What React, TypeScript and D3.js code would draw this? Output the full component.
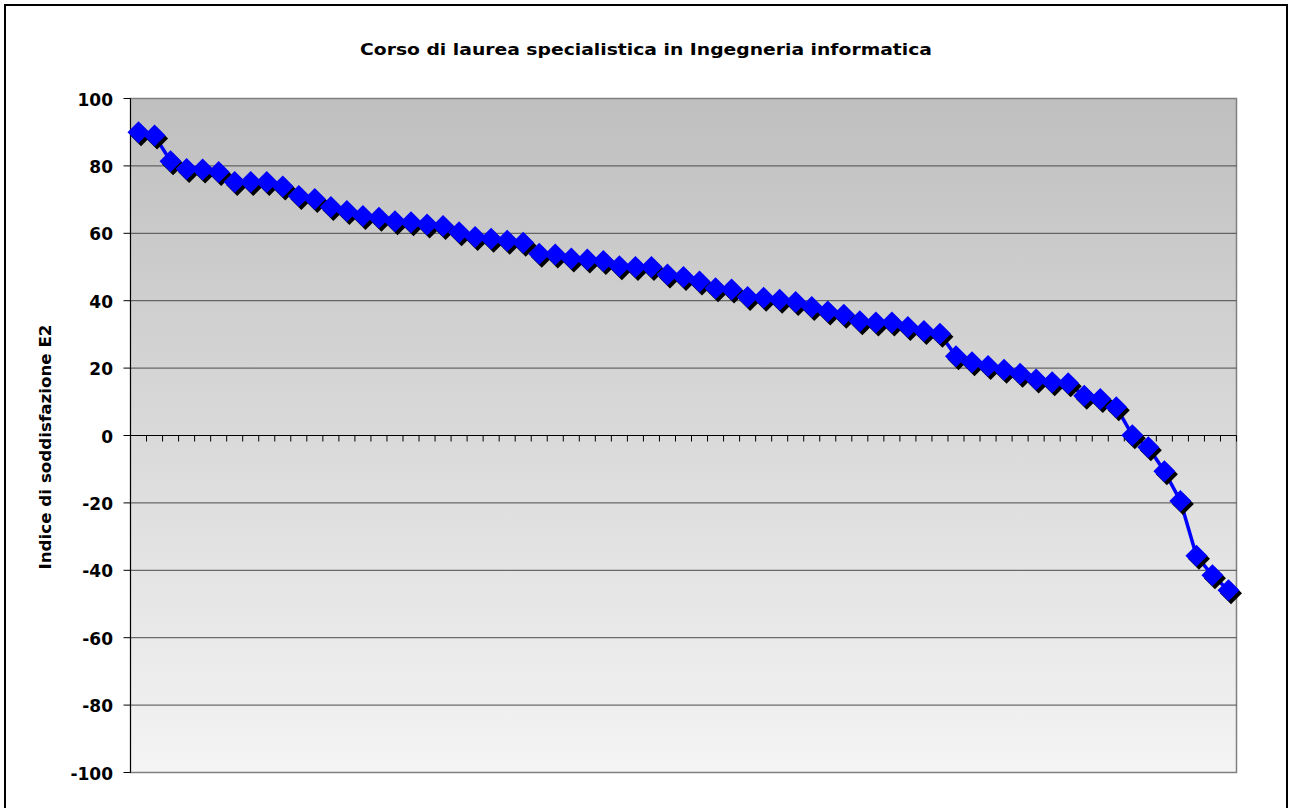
import React from "react";
import * as d3 from "d3";

const TITLE = "Corso di laurea specialistica in Ingegneria informatica";
const Y_TITLE = "Indice di soddisfazione E2";
const Y_TICKS = [100, 80, 60, 40, 20, 0, -20, -40, -60, -80, -100];
const VALUES = [
  90, 89, 81.4, 79.1, 78.9, 78.2, 75.2, 75.2, 75.2, 73.9,
  71.1, 70.2, 67.8, 66.6, 65.1, 64.6, 63.6, 63.3, 62.6, 62.2,
  60.3, 58.9, 58.4, 57.8, 57.2, 53.9, 53.7, 52.5, 52.2, 51.8,
  50.2, 50.0, 50.0, 47.8, 47.0, 45.7, 43.7, 43.3, 41.1, 40.9,
  40.3, 39.6, 38.1, 36.8, 35.8, 33.9, 33.5, 33.5, 32.2, 31.0,
  30.2, 23.5, 21.7, 20.6, 19.5, 18.3, 16.6, 15.8, 15.5, 11.8,
  10.8, 8.4, 0.1, -3.5, -10.6, -19.4, -35.7, -41.5, -45.9,
];
const CATEGORIES = VALUES.map((_, i) => String(i + 1));

const W = 1290;
const H = 808;
const PL = 130.5;
const PR = 1236.5;
const PT = 98.5;
const PB = 772.5;
const FONT = "'DejaVu Sans', Verdana, sans-serif";

export default function App() {
  const x = d3.scaleBand<string>().domain(CATEGORIES).range([PL, PR]).padding(0);
  const y = d3.scaleLinear().domain([-100, 100]).range([PB, PT]);
  const cx = (i: number) => (x(CATEGORIES[i]) as number) + x.bandwidth() / 2;
  const line = d3
    .line<number>()
    .x((_, i) => cx(i))
    .y((d) => y(d));
  const r = 11;
  const diamond = (px: number, py: number) =>
    `M${px},${py - r}L${px + r},${py}L${px},${py + r}L${px - r},${py}Z`;
  const boundaries = d3.range(CATEGORIES.length + 1).map((i) => PL + i * x.step());

  return (
    <svg
      width={W}
      height={H}
      style={{ position: "absolute", left: 0, top: 0, background: "#fff" }}
    >
      <defs>
        <linearGradient id="bg" x1="0" y1="0" x2="0" y2="1">
          <stop offset="0" stopColor="#bfbfbf" />
          <stop offset="1" stopColor="#f4f4f4" />
        </linearGradient>
      </defs>
      <rect x={5} y={5} width={1282} height={820} fill="#fff" stroke="#000" strokeWidth={2} />
      <text
        x={646}
        y={55}
        textAnchor="middle"
        fontFamily={FONT}
        fontWeight="bold"
        fontSize={15}
        textLength={572}
        lengthAdjust="spacingAndGlyphs"
        fill="#000"
      >
        {TITLE}
      </text>
      <rect x={PL} y={PT} width={PR - PL} height={PB - PT} fill="url(#bg)" stroke="#808080" strokeWidth={1.5} />
      {Y_TICKS.filter((t) => t !== 0 && t !== 100 && t !== -100).map((t) => (
        <line key={"g" + t} x1={PL} x2={PR} y1={y(t)} y2={y(t)} stroke="#4a4a4a" strokeWidth={1} />
      ))}
      <line x1={PL} x2={PL} y1={PT} y2={PB} stroke="#000" strokeWidth={1} />
      {Y_TICKS.map((t) => (
        <g key={"t" + t}>
          <line x1={PL - 7} x2={PL} y1={y(t)} y2={y(t)} stroke="#000" strokeWidth={1} />
          <text
            x={113}
            y={y(t) + 7}
            textAnchor="end"
            fontFamily={FONT}
            fontWeight="bold"
            fontSize={17}
            fill="#000"
          >
            {t}
          </text>
        </g>
      ))}
      <line x1={PL} x2={PR} y1={y(0)} y2={y(0)} stroke="#000" strokeWidth={1} />
      {boundaries.map((bx, i) => (
        <line key={"xt" + i} x1={bx} x2={bx} y1={y(0)} y2={y(0) + 6} stroke="#000" strokeWidth={1} />
      ))}
      <text
        transform={`translate(51,447) rotate(-90)`}
        textAnchor="middle"
        fontFamily={FONT}
        fontWeight="bold"
        fontSize={15}
        textLength={245}
        lengthAdjust="spacingAndGlyphs"
        fill="#000"
      >
        {Y_TITLE}
      </text>
      <path d={line(VALUES) || ""} fill="none" stroke="#0000ff" strokeWidth={3.5} />
      {VALUES.map((v, i) => (
        <g key={"m" + i}>
          <path d={diamond(cx(i) + 2.5, y(v) + 3)} fill="#000" />
          <path d={diamond(cx(i), y(v))} fill="#0000ff" />
        </g>
      ))}
    </svg>
  );
}
